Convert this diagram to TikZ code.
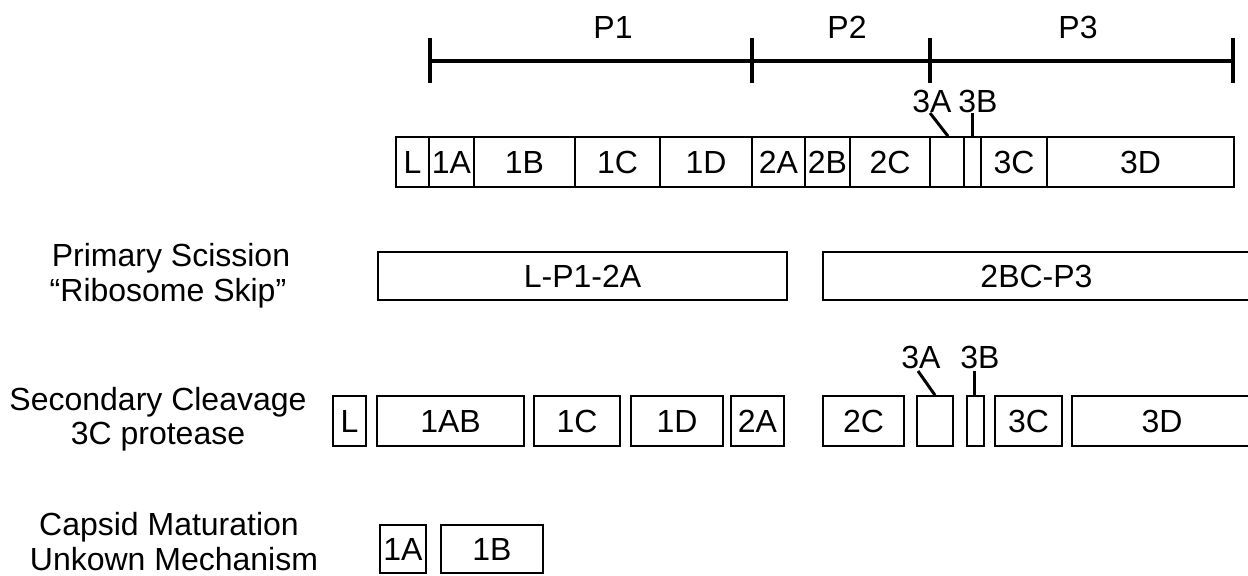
\documentclass[tikz,border=0pt]{standalone}
\usepackage{fontspec}
\setmainfont{Liberation Sans}
\usetikzlibrary{fit}
\newcommand\figfont{\fontsize{16}{18}\selectfont}
\begin{document}
\begin{tikzpicture}[x=0.5pt,y=-0.5pt,
  seg/.style={draw, line width=0.8pt, inner sep=0pt, fit={#1}},
  lbl/.style={label={[font=\figfont, inner sep=0pt]center:#1}},
  txt/.style={font=\figfont, inner sep=0pt, anchor=base},
  scalebar/.style={line width=1.8pt},
  leader/.style={line width=1.5pt}]
\useasboundingbox (0,0) rectangle (1248,575);

% ---- scale bar ----
\coordinate (t0) at (430,61);
\coordinate (t1) at (752,61);
\coordinate (t2) at (930,61);
\coordinate (t3) at (1233,61);
\draw[scalebar] (t0) -- (t3);
\foreach \t in {t0,t1,t2,t3}{
  \draw[scalebar] ([yshift=11.5pt]\t) -- ([yshift=-11pt]\t);
}
\node[txt] (P1) at (613,38) {P1};
\node[txt] (P2) at (847,38) {P2};
\node[txt] (P3) at (1078,38) {P3};

% ---- polyprotein ----
\node[seg={(396,137) (429,187)}, lbl=L] (pL) {};
\node[seg={(429,137) (474,187)}, lbl=1A] (p1A) {};
\node[seg={(474,137) (575,187)}, lbl=1B] (p1B) {};
\node[seg={(575,137) (660,187)}, lbl=1C] (p1C) {};
\node[seg={(660,137) (752,187)}, lbl=1D] (p1D) {};
\node[seg={(752,137) (805,187)}, lbl=2A] (p2A) {};
\node[seg={(805,137) (850,187)}, lbl=2B] (p2B) {};
\node[seg={(850,137) (930,187)}, lbl=2C] (p2C) {};
\node[seg={(930,137) (964,187)}] (p3A) {};
\node[seg={(964,137) (981,187)}] (p3B) {};
\node[seg={(981,137) (1047,187)}, lbl=3C] (p3C) {};
\node[seg={(1047,137) (1234,187)}, lbl=3D] (p3D) {};
\node[txt] (l3Atop) at (932,112) {3A};
\node[txt] (l3Btop) at (978,112) {3B};
\coordinate (a3Atop) at (930,113);
\coordinate (a3Btop) at (972,113);
\draw[leader] (a3Atop) -- (p3A.north -| 948,0);
\draw[leader] (a3Btop) -- (p3B.north -| 972,0);

% ---- primary scission ----
\node[txt] (prim1) at (171,266) {Primary Scission};
\node[txt] (prim2) at (168,301) {“Ribosome Skip”};
\node[seg={(378,252) (787,300)}, lbl=L-P1-2A] (pr1) {};
\node[seg={(823,252) (1250,300)}, lbl=2BC-P3] (pr2) {};

% ---- secondary cleavage ----
\node[txt] (sec1) at (158,410) {Secondary Cleavage};
\node[txt] (sec2) at (158,444) {3C protease};
\node[seg={(333,396) (366,446)}, lbl=L] (sL) {};
\node[seg={(377,396) (524,446)}, lbl=1AB] (s1AB) {};
\node[seg={(534,396) (620,446)}, lbl=1C] (s1C) {};
\node[seg={(631,396) (723,446)}, lbl=1D] (s1D) {};
\node[seg={(731,396) (784,446)}, lbl=2A] (s2A) {};
\node[seg={(823,396) (904,446)}, lbl=2C] (s2C) {};
\node[seg={(917,396) (953,446)}] (s3A) {};
\node[seg={(967,396) (984,446)}] (s3B) {};
\node[seg={(995,396) (1062,446)}, lbl=3C] (s3C) {};
\node[seg={(1072,396) (1252,446)}, lbl=3D] (s3D) {};
\node[txt] (l3Asec) at (921,368) {3A};
\node[txt] (l3Bsec) at (980,368) {3B};
\coordinate (a3Asec) at (918,371);
\coordinate (a3Bsec) at (974,371);
\draw[leader] (a3Asec) -- (s3A.north -| 935,0);
\draw[leader] (a3Bsec) -- (s3B.north -| 974,0);

% ---- capsid maturation ----
\node[txt] (cap1) at (169,535) {Capsid Maturation};
\node[txt] (cap2) at (174,570) {Unkown Mechanism};
\node[seg={(380,525) (426,573)}, lbl=1A] (c1A) {};
\node[seg={(441,525) (543,573)}, lbl=1B] (c1B) {};
\end{tikzpicture}
\end{document}
